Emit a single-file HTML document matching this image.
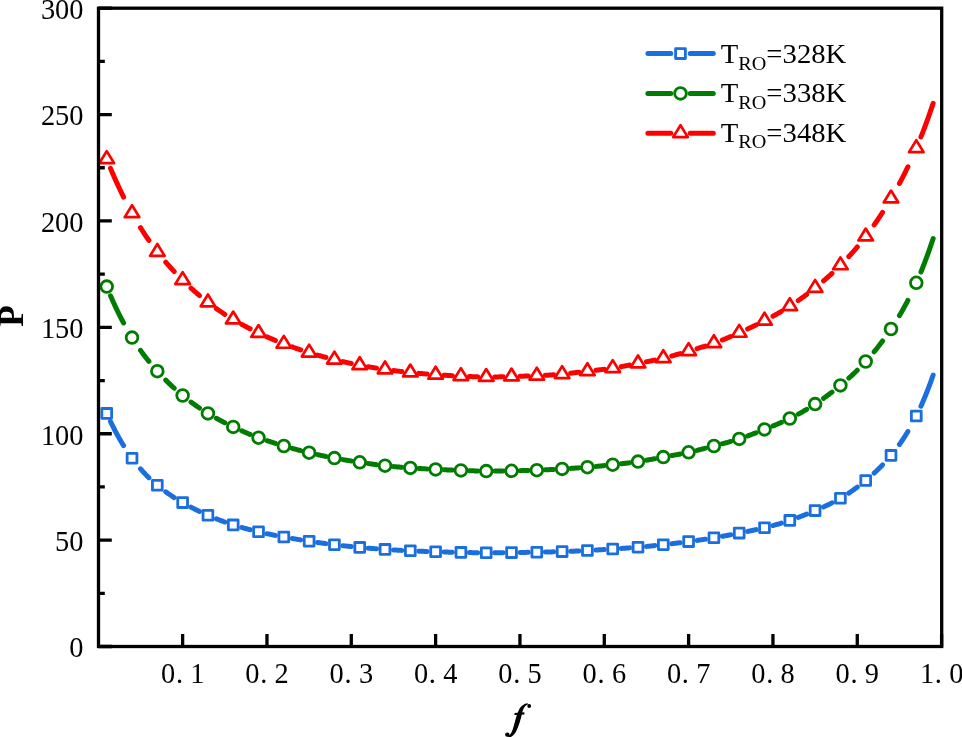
<!DOCTYPE html>
<html><head><meta charset="utf-8">
<style>
html,body{margin:0;padding:0;background:#fff;}
body{width:962px;height:737px;overflow:hidden;}
svg{display:block;will-change:transform;}
.tl{font-family:"Liberation Serif",serif;font-size:28.4px;fill:#000;}
.ttl{font-family:"Liberation Serif",serif;font-size:35px;font-weight:bold;fill:#000;}
.ttlf{font-family:"Liberation Serif",serif;font-size:34px;font-weight:bold;font-style:italic;fill:#000;}
.lg{font-family:"Liberation Serif",serif;font-size:27px;fill:#000;}
.sub{font-size:19px;}
</style></head>
<body><svg width="962" height="737" viewBox="0 0 962 737">
<rect width="962" height="737" fill="#fff"/>
<path d="M110.53 421.58 L111.72 424.02 L112.90 426.41 L114.09 428.75 L115.28 431.04 L116.47 433.27 L117.66 435.45 L118.85 437.59 L120.03 439.67 L121.22 441.71 L122.41 443.70 L123.60 445.65 M140.47 468.79 L141.23 469.66 L142.00 470.52 L142.76 471.37 L143.53 472.21 L144.30 473.03 L145.06 473.84 L145.83 474.64 L146.60 475.43 L147.36 476.20 L148.13 476.96 L148.90 477.72 M165.76 491.83 L166.53 492.38 L167.30 492.92 L168.06 493.46 L168.83 493.99 L169.60 494.51 L170.36 495.03 L171.13 495.54 L171.90 496.05 L172.66 496.55 L173.43 497.04 L174.20 497.53 M191.06 507.22 L191.83 507.62 L192.60 508.01 L193.36 508.41 L194.13 508.80 L194.90 509.18 L195.66 509.57 L196.43 509.95 L197.20 510.32 L197.96 510.70 L198.73 511.07 L199.50 511.44 M216.36 518.83 L217.13 519.13 L217.90 519.43 L218.66 519.73 L219.43 520.03 L220.20 520.32 L220.96 520.61 L221.73 520.90 L222.50 521.19 L223.26 521.47 L224.03 521.75 L224.79 522.03 M241.66 527.46 L242.43 527.68 L243.19 527.89 L243.96 528.11 L244.73 528.32 L245.49 528.53 L246.26 528.73 L247.03 528.94 L247.79 529.14 L248.56 529.34 L249.33 529.54 L250.09 529.74 M266.96 533.68 L267.73 533.84 L268.49 534.00 L269.26 534.16 L270.03 534.32 L270.79 534.48 L271.56 534.64 L272.33 534.79 L273.09 534.95 L273.86 535.10 L274.63 535.25 L275.39 535.40 M292.26 538.49 L293.03 538.62 L293.79 538.75 L294.56 538.88 L295.33 539.01 L296.09 539.13 L296.86 539.26 L297.63 539.39 L298.39 539.51 L299.16 539.64 L299.93 539.76 L300.69 539.88 M317.56 542.45 L318.32 542.56 L319.09 542.67 L319.86 542.77 L320.62 542.88 L321.39 542.99 L322.16 543.10 L322.92 543.20 L323.69 543.31 L324.46 543.41 L325.22 543.51 L325.99 543.62 M342.86 545.69 L343.62 545.77 L344.39 545.86 L345.16 545.94 L345.92 546.02 L346.69 546.11 L347.46 546.19 L348.22 546.27 L348.99 546.35 L349.76 546.43 L350.52 546.51 L351.29 546.58 M368.16 548.14 L368.92 548.20 L369.69 548.27 L370.46 548.33 L371.22 548.39 L371.99 548.45 L372.76 548.51 L373.52 548.57 L374.29 548.63 L375.06 548.69 L375.82 548.75 L376.59 548.81 M393.46 549.92 L394.22 549.97 L394.99 550.01 L395.75 550.05 L396.52 550.10 L397.29 550.14 L398.05 550.18 L398.82 550.22 L399.59 550.26 L400.35 550.30 L401.12 550.34 L401.89 550.38 M418.75 551.18 L419.52 551.21 L420.29 551.24 L421.05 551.27 L421.82 551.31 L422.59 551.34 L423.35 551.37 L424.12 551.40 L424.89 551.43 L425.65 551.46 L426.42 551.49 L427.19 551.51 M444.05 552.03 L444.82 552.05 L445.59 552.07 L446.35 552.09 L447.12 552.10 L447.89 552.12 L448.65 552.14 L449.42 552.16 L450.19 552.17 L450.95 552.19 L451.72 552.21 L452.49 552.22 M469.35 552.57 L470.12 552.59 L470.89 552.60 L471.65 552.62 L472.42 552.63 L473.19 552.65 L473.95 552.66 L474.72 552.67 L475.49 552.68 L476.25 552.70 L477.02 552.71 L477.79 552.72 M494.65 552.79 L495.42 552.79 L496.18 552.78 L496.95 552.78 L497.72 552.77 L498.48 552.76 L499.25 552.76 L500.02 552.75 L500.78 552.74 L501.55 552.73 L502.32 552.72 L503.08 552.71 M519.95 552.48 L520.72 552.46 L521.48 552.45 L522.25 552.44 L523.02 552.43 L523.78 552.42 L524.55 552.41 L525.32 552.39 L526.08 552.38 L526.85 552.37 L527.62 552.36 L528.38 552.34 M545.25 552.04 L546.02 552.02 L546.78 552.01 L547.55 551.99 L548.32 551.97 L549.08 551.96 L549.85 551.94 L550.62 551.92 L551.38 551.90 L552.15 551.88 L552.92 551.86 L553.68 551.84 M570.55 551.29 L571.31 551.26 L572.08 551.23 L572.85 551.20 L573.61 551.16 L574.38 551.13 L575.15 551.10 L575.91 551.06 L576.68 551.03 L577.45 550.99 L578.21 550.96 L578.98 550.92 M595.85 550.03 L596.61 549.99 L597.38 549.94 L598.15 549.90 L598.91 549.85 L599.68 549.81 L600.45 549.76 L601.21 549.71 L601.98 549.67 L602.75 549.62 L603.51 549.58 L604.28 549.53 M621.15 548.45 L621.91 548.40 L622.68 548.35 L623.45 548.30 L624.21 548.24 L624.98 548.19 L625.75 548.14 L626.51 548.08 L627.28 548.03 L628.05 547.97 L628.81 547.92 L629.58 547.86 M646.44 546.45 L647.21 546.37 L647.98 546.30 L648.74 546.23 L649.51 546.15 L650.28 546.08 L651.04 546.00 L651.81 545.92 L652.58 545.85 L653.34 545.77 L654.11 545.69 L654.88 545.61 M671.74 543.73 L672.51 543.64 L673.28 543.55 L674.04 543.46 L674.81 543.36 L675.58 543.27 L676.34 543.18 L677.11 543.08 L677.88 542.99 L678.64 542.89 L679.41 542.79 L680.18 542.70 M697.04 540.43 L697.81 540.32 L698.58 540.21 L699.34 540.09 L700.11 539.98 L700.88 539.87 L701.64 539.75 L702.41 539.64 L703.18 539.52 L703.94 539.40 L704.71 539.29 L705.48 539.17 M722.34 536.32 L723.11 536.18 L723.88 536.03 L724.64 535.89 L725.41 535.75 L726.18 535.61 L726.94 535.46 L727.71 535.32 L728.48 535.18 L729.24 535.03 L730.01 534.88 L730.77 534.74 M747.64 531.42 L748.41 531.26 L749.17 531.10 L749.94 530.95 L750.71 530.79 L751.47 530.63 L752.24 530.46 L753.01 530.30 L753.77 530.14 L754.54 529.97 L755.31 529.81 L756.07 529.64 M772.94 525.54 L773.71 525.33 L774.47 525.12 L775.24 524.90 L776.01 524.69 L776.77 524.47 L777.54 524.25 L778.31 524.03 L779.07 523.80 L779.84 523.57 L780.61 523.34 L781.37 523.11 M798.24 517.38 L799.01 517.09 L799.77 516.80 L800.54 516.51 L801.31 516.22 L802.07 515.92 L802.84 515.62 L803.61 515.32 L804.37 515.02 L805.14 514.71 L805.91 514.41 L806.67 514.10 M823.54 506.90 L824.30 506.55 L825.07 506.20 L825.84 505.84 L826.60 505.48 L827.37 505.12 L828.14 504.75 L828.90 504.38 L829.67 504.01 L830.44 503.63 L831.20 503.25 L831.97 502.86 M848.84 493.06 L849.60 492.55 L850.37 492.03 L851.14 491.51 L851.90 490.98 L852.67 490.45 L853.44 489.91 L854.20 489.37 L854.97 488.81 L855.74 488.26 L856.50 487.69 L857.27 487.13 M874.14 473.15 L874.90 472.44 L875.67 471.72 L876.44 470.99 L877.20 470.26 L877.97 469.51 L878.74 468.76 L879.50 468.00 L880.27 467.23 L881.04 466.45 L881.80 465.66 L882.57 464.86 M899.43 444.45 L900.20 443.37 L900.97 442.27 L901.73 441.15 L902.50 440.01 L903.27 438.85 L904.03 437.68 L904.80 436.48 L905.57 435.27 L906.33 434.04 L907.10 432.78 L907.87 431.51 M920.94 406.17 L922.05 403.66 L923.16 401.09 L924.27 398.46 L925.39 395.77 L926.50 393.00 L927.61 390.18 L928.72 387.28 L929.83 384.32 L930.94 381.28 L932.06 378.18 L933.17 375.00" fill="none" stroke="#1b6ede" stroke-width="5.0" stroke-linecap="round" stroke-linejoin="round"/>
<rect x="101.83" y="408.50" width="9.80" height="9.80" fill="#fff" stroke="#1b6ede" stroke-width="2.8" stroke-linejoin="round"/>
<rect x="127.13" y="453.30" width="9.80" height="9.80" fill="#fff" stroke="#1b6ede" stroke-width="2.8" stroke-linejoin="round"/>
<rect x="152.43" y="480.40" width="9.80" height="9.80" fill="#fff" stroke="#1b6ede" stroke-width="2.8" stroke-linejoin="round"/>
<rect x="177.73" y="497.70" width="9.80" height="9.80" fill="#fff" stroke="#1b6ede" stroke-width="2.8" stroke-linejoin="round"/>
<rect x="203.03" y="510.40" width="9.80" height="9.80" fill="#fff" stroke="#1b6ede" stroke-width="2.8" stroke-linejoin="round"/>
<rect x="228.33" y="520.00" width="9.80" height="9.80" fill="#fff" stroke="#1b6ede" stroke-width="2.8" stroke-linejoin="round"/>
<rect x="253.63" y="526.90" width="9.80" height="9.80" fill="#fff" stroke="#1b6ede" stroke-width="2.8" stroke-linejoin="round"/>
<rect x="278.93" y="532.10" width="9.80" height="9.80" fill="#fff" stroke="#1b6ede" stroke-width="2.8" stroke-linejoin="round"/>
<rect x="304.23" y="536.30" width="9.80" height="9.80" fill="#fff" stroke="#1b6ede" stroke-width="2.8" stroke-linejoin="round"/>
<rect x="329.52" y="539.80" width="9.80" height="9.80" fill="#fff" stroke="#1b6ede" stroke-width="2.8" stroke-linejoin="round"/>
<rect x="354.82" y="542.50" width="9.80" height="9.80" fill="#fff" stroke="#1b6ede" stroke-width="2.8" stroke-linejoin="round"/>
<rect x="380.12" y="544.50" width="9.80" height="9.80" fill="#fff" stroke="#1b6ede" stroke-width="2.8" stroke-linejoin="round"/>
<rect x="405.42" y="545.90" width="9.80" height="9.80" fill="#fff" stroke="#1b6ede" stroke-width="2.8" stroke-linejoin="round"/>
<rect x="430.72" y="546.90" width="9.80" height="9.80" fill="#fff" stroke="#1b6ede" stroke-width="2.8" stroke-linejoin="round"/>
<rect x="456.02" y="547.50" width="9.80" height="9.80" fill="#fff" stroke="#1b6ede" stroke-width="2.8" stroke-linejoin="round"/>
<rect x="481.32" y="547.90" width="9.80" height="9.80" fill="#fff" stroke="#1b6ede" stroke-width="2.8" stroke-linejoin="round"/>
<rect x="506.62" y="547.70" width="9.80" height="9.80" fill="#fff" stroke="#1b6ede" stroke-width="2.8" stroke-linejoin="round"/>
<rect x="531.92" y="547.30" width="9.80" height="9.80" fill="#fff" stroke="#1b6ede" stroke-width="2.8" stroke-linejoin="round"/>
<rect x="557.22" y="546.70" width="9.80" height="9.80" fill="#fff" stroke="#1b6ede" stroke-width="2.8" stroke-linejoin="round"/>
<rect x="582.51" y="545.60" width="9.80" height="9.80" fill="#fff" stroke="#1b6ede" stroke-width="2.8" stroke-linejoin="round"/>
<rect x="607.81" y="544.10" width="9.80" height="9.80" fill="#fff" stroke="#1b6ede" stroke-width="2.8" stroke-linejoin="round"/>
<rect x="633.11" y="542.30" width="9.80" height="9.80" fill="#fff" stroke="#1b6ede" stroke-width="2.8" stroke-linejoin="round"/>
<rect x="658.41" y="539.80" width="9.80" height="9.80" fill="#fff" stroke="#1b6ede" stroke-width="2.8" stroke-linejoin="round"/>
<rect x="683.71" y="536.70" width="9.80" height="9.80" fill="#fff" stroke="#1b6ede" stroke-width="2.8" stroke-linejoin="round"/>
<rect x="709.01" y="532.90" width="9.80" height="9.80" fill="#fff" stroke="#1b6ede" stroke-width="2.8" stroke-linejoin="round"/>
<rect x="734.31" y="528.20" width="9.80" height="9.80" fill="#fff" stroke="#1b6ede" stroke-width="2.8" stroke-linejoin="round"/>
<rect x="759.61" y="522.80" width="9.80" height="9.80" fill="#fff" stroke="#1b6ede" stroke-width="2.8" stroke-linejoin="round"/>
<rect x="784.91" y="515.50" width="9.80" height="9.80" fill="#fff" stroke="#1b6ede" stroke-width="2.8" stroke-linejoin="round"/>
<rect x="810.20" y="505.70" width="9.80" height="9.80" fill="#fff" stroke="#1b6ede" stroke-width="2.8" stroke-linejoin="round"/>
<rect x="835.50" y="493.40" width="9.80" height="9.80" fill="#fff" stroke="#1b6ede" stroke-width="2.8" stroke-linejoin="round"/>
<rect x="860.80" y="475.60" width="9.80" height="9.80" fill="#fff" stroke="#1b6ede" stroke-width="2.8" stroke-linejoin="round"/>
<rect x="886.10" y="450.50" width="9.80" height="9.80" fill="#fff" stroke="#1b6ede" stroke-width="2.8" stroke-linejoin="round"/>
<rect x="911.40" y="411.10" width="9.80" height="9.80" fill="#fff" stroke="#1b6ede" stroke-width="2.8" stroke-linejoin="round"/>
<path d="M110.53 295.73 L111.72 298.47 L112.90 301.15 L114.09 303.78 L115.28 306.36 L116.47 308.89 L117.66 311.36 L118.85 313.79 L120.03 316.16 L121.22 318.49 L122.41 320.77 L123.60 323.00 M140.47 350.27 L141.23 351.34 L142.00 352.39 L142.76 353.43 L143.53 354.46 L144.30 355.48 L145.06 356.49 L145.83 357.48 L146.60 358.47 L147.36 359.44 L148.13 360.40 L148.90 361.35 M165.76 380.11 L166.53 380.88 L167.30 381.64 L168.06 382.40 L168.83 383.15 L169.60 383.89 L170.36 384.62 L171.13 385.35 L171.90 386.07 L172.66 386.79 L173.43 387.49 L174.20 388.20 M191.06 402.09 L191.83 402.65 L192.60 403.21 L193.36 403.77 L194.13 404.32 L194.90 404.86 L195.66 405.40 L196.43 405.94 L197.20 406.47 L197.96 406.99 L198.73 407.51 L199.50 408.03 M216.36 418.28 L217.13 418.71 L217.90 419.12 L218.66 419.54 L219.43 419.95 L220.20 420.36 L220.96 420.77 L221.73 421.17 L222.50 421.57 L223.26 421.97 L224.03 422.36 L224.79 422.76 M241.66 430.78 L242.43 431.12 L243.19 431.46 L243.96 431.79 L244.73 432.12 L245.49 432.45 L246.26 432.78 L247.03 433.11 L247.79 433.43 L248.56 433.75 L249.33 434.07 L250.09 434.39 M266.96 440.71 L267.73 440.97 L268.49 441.23 L269.26 441.48 L270.03 441.74 L270.79 441.99 L271.56 442.24 L272.33 442.49 L273.09 442.73 L273.86 442.98 L274.63 443.22 L275.39 443.46 M292.26 448.38 L293.03 448.59 L293.79 448.80 L294.56 449.00 L295.33 449.21 L296.09 449.41 L296.86 449.62 L297.63 449.82 L298.39 450.02 L299.16 450.22 L299.93 450.42 L300.69 450.61 M317.56 454.65 L318.32 454.82 L319.09 454.98 L319.86 455.15 L320.62 455.32 L321.39 455.48 L322.16 455.65 L322.92 455.81 L323.69 455.97 L324.46 456.13 L325.22 456.29 L325.99 456.45 M342.86 459.61 L343.62 459.74 L344.39 459.87 L345.16 460.00 L345.92 460.12 L346.69 460.25 L347.46 460.38 L348.22 460.50 L348.99 460.63 L349.76 460.75 L350.52 460.87 L351.29 461.00 M368.16 463.54 L368.92 463.65 L369.69 463.76 L370.46 463.86 L371.22 463.97 L371.99 464.07 L372.76 464.18 L373.52 464.28 L374.29 464.38 L375.06 464.49 L375.82 464.59 L376.59 464.69 M393.46 466.55 L394.22 466.62 L394.99 466.69 L395.75 466.76 L396.52 466.83 L397.29 466.90 L398.05 466.96 L398.82 467.03 L399.59 467.09 L400.35 467.15 L401.12 467.21 L401.89 467.27 M418.75 468.46 L419.52 468.51 L420.29 468.56 L421.05 468.61 L421.82 468.65 L422.59 468.70 L423.35 468.74 L424.12 468.79 L424.89 468.83 L425.65 468.88 L426.42 468.92 L427.19 468.96 M444.05 469.77 L444.82 469.80 L445.59 469.83 L446.35 469.86 L447.12 469.89 L447.89 469.92 L448.65 469.95 L449.42 469.98 L450.19 470.01 L450.95 470.04 L451.72 470.06 L452.49 470.09 M469.35 470.70 L470.12 470.73 L470.89 470.76 L471.65 470.78 L472.42 470.81 L473.19 470.83 L473.95 470.85 L474.72 470.88 L475.49 470.90 L476.25 470.92 L477.02 470.94 L477.79 470.96 M494.65 471.09 L495.42 471.08 L496.18 471.07 L496.95 471.06 L497.72 471.05 L498.48 471.04 L499.25 471.03 L500.02 471.02 L500.78 471.00 L501.55 470.99 L502.32 470.98 L503.08 470.96 M519.95 470.64 L520.72 470.63 L521.48 470.61 L522.25 470.59 L523.02 470.58 L523.78 470.56 L524.55 470.55 L525.32 470.53 L526.08 470.51 L526.85 470.49 L527.62 470.48 L528.38 470.46 M545.25 469.84 L546.02 469.80 L546.78 469.76 L547.55 469.72 L548.32 469.68 L549.08 469.64 L549.85 469.60 L550.62 469.56 L551.38 469.52 L552.15 469.47 L552.92 469.43 L553.68 469.39 M570.55 468.39 L571.31 468.35 L572.08 468.30 L572.85 468.25 L573.61 468.20 L574.38 468.15 L575.15 468.10 L575.91 468.05 L576.68 468.00 L577.45 467.95 L578.21 467.89 L578.98 467.84 M595.85 466.44 L596.61 466.37 L597.38 466.29 L598.15 466.22 L598.91 466.14 L599.68 466.06 L600.45 465.99 L601.21 465.91 L601.98 465.83 L602.75 465.75 L603.51 465.67 L604.28 465.59 M621.15 463.78 L621.91 463.69 L622.68 463.61 L623.45 463.52 L624.21 463.43 L624.98 463.34 L625.75 463.25 L626.51 463.16 L627.28 463.06 L628.05 462.97 L628.81 462.87 L629.58 462.78 M646.44 460.20 L647.21 460.07 L647.98 459.93 L648.74 459.79 L649.51 459.65 L650.28 459.52 L651.04 459.38 L651.81 459.23 L652.58 459.09 L653.34 458.95 L654.11 458.81 L654.88 458.67 M671.74 455.58 L672.51 455.44 L673.28 455.30 L674.04 455.16 L674.81 455.02 L675.58 454.88 L676.34 454.74 L677.11 454.60 L677.88 454.45 L678.64 454.31 L679.41 454.17 L680.18 454.02 M697.04 450.34 L697.81 450.15 L698.58 449.96 L699.34 449.77 L700.11 449.58 L700.88 449.38 L701.64 449.19 L702.41 448.99 L703.18 448.80 L703.94 448.60 L704.71 448.40 L705.48 448.20 M722.34 443.79 L723.11 443.59 L723.88 443.38 L724.64 443.18 L725.41 442.97 L726.18 442.76 L726.94 442.55 L727.71 442.34 L728.48 442.13 L729.24 441.91 L730.01 441.69 L730.77 441.47 M747.64 435.97 L748.41 435.68 L749.17 435.40 L749.94 435.11 L750.71 434.82 L751.47 434.53 L752.24 434.24 L753.01 433.95 L753.77 433.65 L754.54 433.35 L755.31 433.06 L756.07 432.76 M772.94 425.98 L773.71 425.66 L774.47 425.35 L775.24 425.03 L776.01 424.70 L776.77 424.38 L777.54 424.06 L778.31 423.73 L779.07 423.40 L779.84 423.07 L780.61 422.73 L781.37 422.40 M798.24 414.17 L799.01 413.75 L799.77 413.33 L800.54 412.90 L801.31 412.48 L802.07 412.04 L802.84 411.61 L803.61 411.17 L804.37 410.72 L805.14 410.28 L805.91 409.82 L806.67 409.37 M823.54 398.35 L824.30 397.81 L825.07 397.26 L825.84 396.70 L826.60 396.15 L827.37 395.58 L828.14 395.02 L828.90 394.45 L829.67 393.87 L830.44 393.29 L831.20 392.71 L831.97 392.12 M848.84 378.15 L849.60 377.46 L850.37 376.76 L851.14 376.06 L851.90 375.35 L852.67 374.64 L853.44 373.92 L854.20 373.20 L854.97 372.47 L855.74 371.73 L856.50 370.98 L857.27 370.23 M874.14 351.80 L874.90 350.86 L875.67 349.92 L876.44 348.97 L877.20 348.00 L877.97 347.03 L878.74 346.05 L879.50 345.06 L880.27 344.06 L881.04 343.05 L881.80 342.03 L882.57 341.00 M899.43 315.61 L900.20 314.31 L900.97 312.99 L901.73 311.66 L902.50 310.31 L903.27 308.95 L904.03 307.57 L904.80 306.17 L905.57 304.75 L906.33 303.31 L907.10 301.86 L907.87 300.38 M920.94 271.94 L922.05 269.20 L923.16 266.40 L924.27 263.54 L925.39 260.63 L926.50 257.66 L927.61 254.62 L928.72 251.53 L929.83 248.37 L930.94 245.14 L932.06 241.86 L933.17 238.50" fill="none" stroke="#007d00" stroke-width="5.0" stroke-linecap="round" stroke-linejoin="round"/>
<circle cx="106.73" cy="286.60" r="5.85" fill="#fff" stroke="#007d00" stroke-width="2.8"/>
<circle cx="132.03" cy="337.60" r="5.85" fill="#fff" stroke="#007d00" stroke-width="2.8"/>
<circle cx="157.33" cy="371.20" r="5.85" fill="#fff" stroke="#007d00" stroke-width="2.8"/>
<circle cx="182.63" cy="395.50" r="5.85" fill="#fff" stroke="#007d00" stroke-width="2.8"/>
<circle cx="207.93" cy="413.40" r="5.85" fill="#fff" stroke="#007d00" stroke-width="2.8"/>
<circle cx="233.23" cy="426.90" r="5.85" fill="#fff" stroke="#007d00" stroke-width="2.8"/>
<circle cx="258.53" cy="437.70" r="5.85" fill="#fff" stroke="#007d00" stroke-width="2.8"/>
<circle cx="283.83" cy="446.00" r="5.85" fill="#fff" stroke="#007d00" stroke-width="2.8"/>
<circle cx="309.12" cy="452.70" r="5.85" fill="#fff" stroke="#007d00" stroke-width="2.8"/>
<circle cx="334.42" cy="458.10" r="5.85" fill="#fff" stroke="#007d00" stroke-width="2.8"/>
<circle cx="359.72" cy="462.30" r="5.85" fill="#fff" stroke="#007d00" stroke-width="2.8"/>
<circle cx="385.02" cy="465.70" r="5.85" fill="#fff" stroke="#007d00" stroke-width="2.8"/>
<circle cx="410.32" cy="467.90" r="5.85" fill="#fff" stroke="#007d00" stroke-width="2.8"/>
<circle cx="435.62" cy="469.40" r="5.85" fill="#fff" stroke="#007d00" stroke-width="2.8"/>
<circle cx="460.92" cy="470.40" r="5.85" fill="#fff" stroke="#007d00" stroke-width="2.8"/>
<circle cx="486.22" cy="471.10" r="5.85" fill="#fff" stroke="#007d00" stroke-width="2.8"/>
<circle cx="511.52" cy="470.80" r="5.85" fill="#fff" stroke="#007d00" stroke-width="2.8"/>
<circle cx="536.82" cy="470.20" r="5.85" fill="#fff" stroke="#007d00" stroke-width="2.8"/>
<circle cx="562.12" cy="468.90" r="5.85" fill="#fff" stroke="#007d00" stroke-width="2.8"/>
<circle cx="587.41" cy="467.20" r="5.85" fill="#fff" stroke="#007d00" stroke-width="2.8"/>
<circle cx="612.71" cy="464.70" r="5.85" fill="#fff" stroke="#007d00" stroke-width="2.8"/>
<circle cx="638.01" cy="461.60" r="5.85" fill="#fff" stroke="#007d00" stroke-width="2.8"/>
<circle cx="663.31" cy="457.10" r="5.85" fill="#fff" stroke="#007d00" stroke-width="2.8"/>
<circle cx="688.61" cy="452.30" r="5.85" fill="#fff" stroke="#007d00" stroke-width="2.8"/>
<circle cx="713.91" cy="446.00" r="5.85" fill="#fff" stroke="#007d00" stroke-width="2.8"/>
<circle cx="739.21" cy="438.90" r="5.85" fill="#fff" stroke="#007d00" stroke-width="2.8"/>
<circle cx="764.51" cy="429.40" r="5.85" fill="#fff" stroke="#007d00" stroke-width="2.8"/>
<circle cx="789.81" cy="418.50" r="5.85" fill="#fff" stroke="#007d00" stroke-width="2.8"/>
<circle cx="815.10" cy="404.10" r="5.85" fill="#fff" stroke="#007d00" stroke-width="2.8"/>
<circle cx="840.40" cy="385.40" r="5.85" fill="#fff" stroke="#007d00" stroke-width="2.8"/>
<circle cx="865.70" cy="361.50" r="5.85" fill="#fff" stroke="#007d00" stroke-width="2.8"/>
<circle cx="891.00" cy="329.00" r="5.85" fill="#fff" stroke="#007d00" stroke-width="2.8"/>
<circle cx="916.30" cy="282.80" r="5.85" fill="#fff" stroke="#007d00" stroke-width="2.8"/>
<path d="M110.53 168.38 L111.72 171.20 L112.90 173.97 L114.09 176.70 L115.28 179.39 L116.47 182.04 L117.66 184.65 L118.85 187.22 L120.03 189.75 L121.22 192.24 L122.41 194.69 L123.60 197.11 M140.47 227.58 L141.23 228.81 L142.00 230.02 L142.76 231.23 L143.53 232.42 L144.30 233.60 L145.06 234.76 L145.83 235.92 L146.60 237.06 L147.36 238.19 L148.13 239.31 L148.90 240.42 M165.76 262.19 L166.53 263.08 L167.30 263.96 L168.06 264.82 L168.83 265.69 L169.60 266.54 L170.36 267.39 L171.13 268.23 L171.90 269.06 L172.66 269.89 L173.43 270.71 L174.20 271.52 M191.06 288.11 L191.83 288.81 L192.60 289.51 L193.36 290.20 L194.13 290.89 L194.90 291.57 L195.66 292.25 L196.43 292.92 L197.20 293.59 L197.96 294.25 L198.73 294.91 L199.50 295.56 M216.36 308.62 L217.13 309.16 L217.90 309.69 L218.66 310.22 L219.43 310.74 L220.20 311.26 L220.96 311.77 L221.73 312.28 L222.50 312.79 L223.26 313.29 L224.03 313.79 L224.79 314.29 M241.66 324.34 L242.43 324.76 L243.19 325.18 L243.96 325.60 L244.73 326.01 L245.49 326.42 L246.26 326.83 L247.03 327.24 L247.79 327.64 L248.56 328.04 L249.33 328.44 L250.09 328.83 M266.96 336.86 L267.73 337.20 L268.49 337.53 L269.26 337.87 L270.03 338.20 L270.79 338.52 L271.56 338.85 L272.33 339.17 L273.09 339.50 L273.86 339.82 L274.63 340.13 L275.39 340.45 M292.26 346.94 L293.03 347.22 L293.79 347.49 L294.56 347.76 L295.33 348.03 L296.09 348.30 L296.86 348.57 L297.63 348.83 L298.39 349.10 L299.16 349.36 L299.93 349.62 L300.69 349.88 M317.56 355.11 L318.32 355.33 L319.09 355.55 L319.86 355.77 L320.62 355.98 L321.39 356.19 L322.16 356.40 L322.92 356.61 L323.69 356.82 L324.46 357.03 L325.22 357.23 L325.99 357.44 M342.86 361.62 L343.62 361.79 L344.39 361.97 L345.16 362.14 L345.92 362.32 L346.69 362.49 L347.46 362.66 L348.22 362.83 L348.99 362.99 L349.76 363.16 L350.52 363.32 L351.29 363.49 M368.16 366.75 L368.92 366.88 L369.69 367.01 L370.46 367.14 L371.22 367.27 L371.99 367.40 L372.76 367.52 L373.52 367.65 L374.29 367.77 L375.06 367.90 L375.82 368.02 L376.59 368.14 M393.46 370.54 L394.22 370.64 L394.99 370.74 L395.75 370.83 L396.52 370.93 L397.29 371.02 L398.05 371.12 L398.82 371.21 L399.59 371.30 L400.35 371.39 L401.12 371.48 L401.89 371.57 M418.75 373.33 L419.52 373.41 L420.29 373.48 L421.05 373.55 L421.82 373.61 L422.59 373.68 L423.35 373.75 L424.12 373.81 L424.89 373.88 L425.65 373.94 L426.42 374.01 L427.19 374.07 M444.05 375.23 L444.82 375.27 L445.59 375.31 L446.35 375.36 L447.12 375.40 L447.89 375.44 L448.65 375.48 L449.42 375.52 L450.19 375.56 L450.95 375.60 L451.72 375.64 L452.49 375.68 M469.35 376.50 L470.12 376.54 L470.89 376.57 L471.65 376.61 L472.42 376.64 L473.19 376.67 L473.95 376.70 L474.72 376.73 L475.49 376.76 L476.25 376.78 L477.02 376.81 L477.79 376.83 M494.65 376.95 L495.42 376.94 L496.18 376.93 L496.95 376.91 L497.72 376.89 L498.48 376.88 L499.25 376.86 L500.02 376.84 L500.78 376.82 L501.55 376.80 L502.32 376.78 L503.08 376.76 M519.95 376.25 L520.72 376.23 L521.48 376.21 L522.25 376.19 L523.02 376.16 L523.78 376.14 L524.55 376.12 L525.32 376.10 L526.08 376.07 L526.85 376.05 L527.62 376.02 L528.38 376.00 M545.25 375.31 L546.02 375.27 L546.78 375.23 L547.55 375.19 L548.32 375.14 L549.08 375.10 L549.85 375.05 L550.62 375.00 L551.38 374.95 L552.15 374.90 L552.92 374.85 L553.68 374.79 M570.55 373.21 L571.31 373.12 L572.08 373.03 L572.85 372.94 L573.61 372.85 L574.38 372.76 L575.15 372.67 L575.91 372.58 L576.68 372.49 L577.45 372.39 L578.21 372.30 L578.98 372.21 M595.85 370.25 L596.61 370.16 L597.38 370.08 L598.15 369.99 L598.91 369.90 L599.68 369.81 L600.45 369.72 L601.21 369.63 L601.98 369.54 L602.75 369.45 L603.51 369.36 L604.28 369.26 M621.15 366.67 L621.91 366.53 L622.68 366.39 L623.45 366.24 L624.21 366.10 L624.98 365.95 L625.75 365.81 L626.51 365.66 L627.28 365.51 L628.05 365.36 L628.81 365.21 L629.58 365.06 M646.44 361.78 L647.21 361.63 L647.98 361.48 L648.74 361.33 L649.51 361.18 L650.28 361.03 L651.04 360.87 L651.81 360.72 L652.58 360.57 L653.34 360.41 L654.11 360.25 L654.88 360.09 M671.74 356.00 L672.51 355.79 L673.28 355.58 L674.04 355.36 L674.81 355.14 L675.58 354.93 L676.34 354.71 L677.11 354.49 L677.88 354.26 L678.64 354.04 L679.41 353.82 L680.18 353.59 M697.04 348.61 L697.81 348.39 L698.58 348.16 L699.34 347.93 L700.11 347.69 L700.88 347.46 L701.64 347.23 L702.41 346.99 L703.18 346.75 L703.94 346.52 L704.71 346.27 L705.48 346.03 M722.34 340.01 L723.11 339.70 L723.88 339.39 L724.64 339.08 L725.41 338.77 L726.18 338.45 L726.94 338.13 L727.71 337.81 L728.48 337.49 L729.24 337.17 L730.01 336.84 L730.77 336.51 M747.64 328.95 L748.41 328.59 L749.17 328.23 L749.94 327.87 L750.71 327.51 L751.47 327.14 L752.24 326.78 L753.01 326.41 L753.77 326.04 L754.54 325.67 L755.31 325.30 L756.07 324.93 M772.94 316.21 L773.71 315.79 L774.47 315.36 L775.24 314.94 L776.01 314.50 L776.77 314.07 L777.54 313.63 L778.31 313.19 L779.07 312.75 L779.84 312.30 L780.61 311.85 L781.37 311.40 M798.24 300.55 L799.01 300.01 L799.77 299.47 L800.54 298.93 L801.31 298.38 L802.07 297.83 L802.84 297.28 L803.61 296.72 L804.37 296.16 L805.14 295.59 L805.91 295.02 L806.67 294.45 M823.54 280.90 L824.30 280.24 L825.07 279.58 L825.84 278.91 L826.60 278.23 L827.37 277.56 L828.14 276.87 L828.90 276.19 L829.67 275.49 L830.44 274.80 L831.20 274.10 L831.97 273.39 M848.84 256.54 L849.60 255.71 L850.37 254.87 L851.14 254.02 L851.90 253.17 L852.67 252.31 L853.44 251.44 L854.20 250.56 L854.97 249.68 L855.74 248.79 L856.50 247.89 L857.27 246.99 M874.14 224.95 L874.90 223.85 L875.67 222.74 L876.44 221.61 L877.20 220.48 L877.97 219.34 L878.74 218.19 L879.50 217.03 L880.27 215.86 L881.04 214.68 L881.80 213.50 L882.57 212.30 M899.43 183.46 L900.20 182.02 L900.97 180.57 L901.73 179.10 L902.50 177.62 L903.27 176.12 L904.03 174.61 L904.80 173.09 L905.57 171.55 L906.33 169.99 L907.10 168.42 L907.87 166.83 M920.94 136.95 L922.05 134.14 L923.16 131.28 L924.27 128.38 L925.39 125.42 L926.50 122.42 L927.61 119.36 L928.72 116.26 L929.83 113.10 L930.94 109.89 L932.06 106.62 L933.17 103.30" fill="none" stroke="#ff0000" stroke-width="5.0" stroke-linecap="round" stroke-linejoin="round"/>
<path d="M106.73 151.15 L114.03 163.05 L99.43 163.05 Z" fill="#fff" stroke="#ff0000" stroke-width="2.7" stroke-linejoin="round"/>
<path d="M132.03 205.25 L139.33 217.15 L124.73 217.15 Z" fill="#fff" stroke="#ff0000" stroke-width="2.7" stroke-linejoin="round"/>
<path d="M157.33 243.95 L164.63 255.85 L150.03 255.85 Z" fill="#fff" stroke="#ff0000" stroke-width="2.7" stroke-linejoin="round"/>
<path d="M182.63 272.15 L189.93 284.05 L175.33 284.05 Z" fill="#fff" stroke="#ff0000" stroke-width="2.7" stroke-linejoin="round"/>
<path d="M207.93 294.45 L215.23 306.35 L200.63 306.35 Z" fill="#fff" stroke="#ff0000" stroke-width="2.7" stroke-linejoin="round"/>
<path d="M233.23 311.55 L240.53 323.45 L225.93 323.45 Z" fill="#fff" stroke="#ff0000" stroke-width="2.7" stroke-linejoin="round"/>
<path d="M258.53 325.05 L265.83 336.95 L251.23 336.95 Z" fill="#fff" stroke="#ff0000" stroke-width="2.7" stroke-linejoin="round"/>
<path d="M283.83 335.85 L291.13 347.75 L276.53 347.75 Z" fill="#fff" stroke="#ff0000" stroke-width="2.7" stroke-linejoin="round"/>
<path d="M309.12 344.65 L316.43 356.55 L301.82 356.55 Z" fill="#fff" stroke="#ff0000" stroke-width="2.7" stroke-linejoin="round"/>
<path d="M334.42 351.65 L341.72 363.55 L327.12 363.55 Z" fill="#fff" stroke="#ff0000" stroke-width="2.7" stroke-linejoin="round"/>
<path d="M359.72 357.25 L367.02 369.15 L352.42 369.15 Z" fill="#fff" stroke="#ff0000" stroke-width="2.7" stroke-linejoin="round"/>
<path d="M385.02 361.45 L392.32 373.35 L377.72 373.35 Z" fill="#fff" stroke="#ff0000" stroke-width="2.7" stroke-linejoin="round"/>
<path d="M410.32 364.55 L417.62 376.45 L403.02 376.45 Z" fill="#fff" stroke="#ff0000" stroke-width="2.7" stroke-linejoin="round"/>
<path d="M435.62 366.75 L442.92 378.65 L428.32 378.65 Z" fill="#fff" stroke="#ff0000" stroke-width="2.7" stroke-linejoin="round"/>
<path d="M460.92 368.15 L468.22 380.05 L453.62 380.05 Z" fill="#fff" stroke="#ff0000" stroke-width="2.7" stroke-linejoin="round"/>
<path d="M486.22 369.05 L493.52 380.95 L478.92 380.95 Z" fill="#fff" stroke="#ff0000" stroke-width="2.7" stroke-linejoin="round"/>
<path d="M511.52 368.55 L518.82 380.45 L504.22 380.45 Z" fill="#fff" stroke="#ff0000" stroke-width="2.7" stroke-linejoin="round"/>
<path d="M536.82 367.75 L544.12 379.65 L529.52 379.65 Z" fill="#fff" stroke="#ff0000" stroke-width="2.7" stroke-linejoin="round"/>
<path d="M562.12 366.15 L569.41 378.05 L554.82 378.05 Z" fill="#fff" stroke="#ff0000" stroke-width="2.7" stroke-linejoin="round"/>
<path d="M587.41 363.25 L594.71 375.15 L580.11 375.15 Z" fill="#fff" stroke="#ff0000" stroke-width="2.7" stroke-linejoin="round"/>
<path d="M612.71 360.15 L620.01 372.05 L605.41 372.05 Z" fill="#fff" stroke="#ff0000" stroke-width="2.7" stroke-linejoin="round"/>
<path d="M638.01 355.45 L645.31 367.35 L630.71 367.35 Z" fill="#fff" stroke="#ff0000" stroke-width="2.7" stroke-linejoin="round"/>
<path d="M663.31 350.25 L670.61 362.15 L656.01 362.15 Z" fill="#fff" stroke="#ff0000" stroke-width="2.7" stroke-linejoin="round"/>
<path d="M688.61 343.15 L695.91 355.05 L681.31 355.05 Z" fill="#fff" stroke="#ff0000" stroke-width="2.7" stroke-linejoin="round"/>
<path d="M713.91 335.25 L721.21 347.15 L706.61 347.15 Z" fill="#fff" stroke="#ff0000" stroke-width="2.7" stroke-linejoin="round"/>
<path d="M739.21 324.85 L746.51 336.75 L731.91 336.75 Z" fill="#fff" stroke="#ff0000" stroke-width="2.7" stroke-linejoin="round"/>
<path d="M764.51 312.75 L771.81 324.65 L757.21 324.65 Z" fill="#fff" stroke="#ff0000" stroke-width="2.7" stroke-linejoin="round"/>
<path d="M789.81 298.25 L797.11 310.15 L782.51 310.15 Z" fill="#fff" stroke="#ff0000" stroke-width="2.7" stroke-linejoin="round"/>
<path d="M815.10 279.95 L822.40 291.85 L807.80 291.85 Z" fill="#fff" stroke="#ff0000" stroke-width="2.7" stroke-linejoin="round"/>
<path d="M840.40 257.35 L847.70 269.25 L833.10 269.25 Z" fill="#fff" stroke="#ff0000" stroke-width="2.7" stroke-linejoin="round"/>
<path d="M865.70 228.55 L873.00 240.45 L858.40 240.45 Z" fill="#fff" stroke="#ff0000" stroke-width="2.7" stroke-linejoin="round"/>
<path d="M891.00 190.55 L898.30 202.45 L883.70 202.45 Z" fill="#fff" stroke="#ff0000" stroke-width="2.7" stroke-linejoin="round"/>
<path d="M916.30 140.25 L923.60 152.15 L909.00 152.15 Z" fill="#fff" stroke="#ff0000" stroke-width="2.7" stroke-linejoin="round"/>
<rect x="98.50" y="8.20" width="843.20" height="638.30" fill="none" stroke="#000" stroke-width="3.3"/>
<path d="M98.50 646.50 H111.80 M98.50 593.31 H104.80 M98.50 540.12 H111.80 M98.50 486.93 H104.80 M98.50 433.73 H111.80 M98.50 380.54 H104.80 M98.50 327.35 H111.80 M98.50 274.16 H104.80 M98.50 220.97 H111.80 M98.50 167.77 H104.80 M98.50 114.58 H111.80 M98.50 61.39 H104.80 M98.50 8.20 H111.80 M182.63 646.50 V634.00 M266.96 646.50 V634.00 M351.29 646.50 V634.00 M435.62 646.50 V634.00 M519.95 646.50 V634.00 M604.28 646.50 V634.00 M688.61 646.50 V634.00 M772.94 646.50 V634.00 M857.27 646.50 V634.00 M941.60 646.50 V634.00" stroke="#000" stroke-width="3.3" fill="none"/>
<text x="83.5" y="657.30" text-anchor="end" class="tl">0</text>
<text x="83.5" y="550.92" text-anchor="end" class="tl">50</text>
<text x="83.5" y="444.53" text-anchor="end" class="tl">100</text>
<text x="83.5" y="338.15" text-anchor="end" class="tl">150</text>
<text x="83.5" y="231.77" text-anchor="end" class="tl">200</text>
<text x="83.5" y="125.38" text-anchor="end" class="tl">250</text>
<text x="83.5" y="19.00" text-anchor="end" class="tl">300</text>
<text y="683.3" class="tl"><tspan x="168.03" text-anchor="middle">0</tspan><tspan x="179.43" text-anchor="middle">.</tspan><tspan x="197.33" text-anchor="middle">1</tspan></text>
<text y="683.3" class="tl"><tspan x="252.36" text-anchor="middle">0</tspan><tspan x="263.76" text-anchor="middle">.</tspan><tspan x="281.66" text-anchor="middle">2</tspan></text>
<text y="683.3" class="tl"><tspan x="336.69" text-anchor="middle">0</tspan><tspan x="348.09" text-anchor="middle">.</tspan><tspan x="365.99" text-anchor="middle">3</tspan></text>
<text y="683.3" class="tl"><tspan x="421.02" text-anchor="middle">0</tspan><tspan x="432.42" text-anchor="middle">.</tspan><tspan x="450.32" text-anchor="middle">4</tspan></text>
<text y="683.3" class="tl"><tspan x="505.35" text-anchor="middle">0</tspan><tspan x="516.75" text-anchor="middle">.</tspan><tspan x="534.65" text-anchor="middle">5</tspan></text>
<text y="683.3" class="tl"><tspan x="589.68" text-anchor="middle">0</tspan><tspan x="601.08" text-anchor="middle">.</tspan><tspan x="618.98" text-anchor="middle">6</tspan></text>
<text y="683.3" class="tl"><tspan x="674.01" text-anchor="middle">0</tspan><tspan x="685.41" text-anchor="middle">.</tspan><tspan x="703.31" text-anchor="middle">7</tspan></text>
<text y="683.3" class="tl"><tspan x="758.34" text-anchor="middle">0</tspan><tspan x="769.74" text-anchor="middle">.</tspan><tspan x="787.64" text-anchor="middle">8</tspan></text>
<text y="683.3" class="tl"><tspan x="842.67" text-anchor="middle">0</tspan><tspan x="854.07" text-anchor="middle">.</tspan><tspan x="871.97" text-anchor="middle">9</tspan></text>
<text y="683.3" class="tl"><tspan x="927.00" text-anchor="middle">1</tspan><tspan x="938.40" text-anchor="middle">.</tspan><tspan x="956.30" text-anchor="middle">0</tspan></text>
<text x="0" y="0" class="ttl" transform="translate(23.2 316) rotate(-90)" text-anchor="middle">P</text>
<g fill="#000"><path d="M527.3 703.2 C524.6 703.4 521.4 705.6 519.6 708.6 C518.2 711 517.2 713.8 516.3 716.8 L513.2 728.0 C512.3 731.2 510.8 734.4 509.0 735.6 L507.0 736.6 L510.5 737.2 C513.2 735.8 515.6 733.0 517.0 729.5 C518.8 725.8 520.1 721.2 521.1 717.6 L522.4 712.0 C523.0 709.2 524.4 706.3 526.6 705.0 C527.6 704.5 528.6 704.5 529.2 704.8 Z"/><circle cx="529.2" cy="706" r="1.9"/><circle cx="507.3" cy="734.6" r="2.2"/><path d="M514.6 712.9 L524.4 712.3 L524.4 714.6 L514.4 715.1 Z"/></g>
<path d="M647.9 53.60 H670.8 M690.2 53.60 H713.3" stroke="#1b6ede" stroke-width="5.0" stroke-linecap="round"/>
<rect x="675.60" y="48.70" width="9.80" height="9.80" fill="#fff" stroke="#1b6ede" stroke-width="2.8" stroke-linejoin="round"/>
<text x="720.8" y="63.10" class="lg" textLength="125.5" lengthAdjust="spacingAndGlyphs">T<tspan class="sub" dy="6.5">RO</tspan><tspan dy="-6.5">=328K</tspan></text>
<path d="M647.9 93.40 H670.8 M690.2 93.40 H713.3" stroke="#007d00" stroke-width="5.0" stroke-linecap="round"/>
<circle cx="680.50" cy="93.40" r="5.85" fill="#fff" stroke="#007d00" stroke-width="2.8"/>
<text x="720.8" y="102.00" class="lg" textLength="125.5" lengthAdjust="spacingAndGlyphs">T<tspan class="sub" dy="6.5">RO</tspan><tspan dy="-6.5">=338K</tspan></text>
<path d="M647.9 133.20 H670.8 M690.2 133.20 H713.3" stroke="#ff0000" stroke-width="5.0" stroke-linecap="round"/>
<path d="M680.50 125.25 L687.80 137.15 L673.20 137.15 Z" fill="#fff" stroke="#ff0000" stroke-width="2.7" stroke-linejoin="round"/>
<text x="720.8" y="141.90" class="lg" textLength="125.5" lengthAdjust="spacingAndGlyphs">T<tspan class="sub" dy="6.5">RO</tspan><tspan dy="-6.5">=348K</tspan></text>
</svg></body></html>
